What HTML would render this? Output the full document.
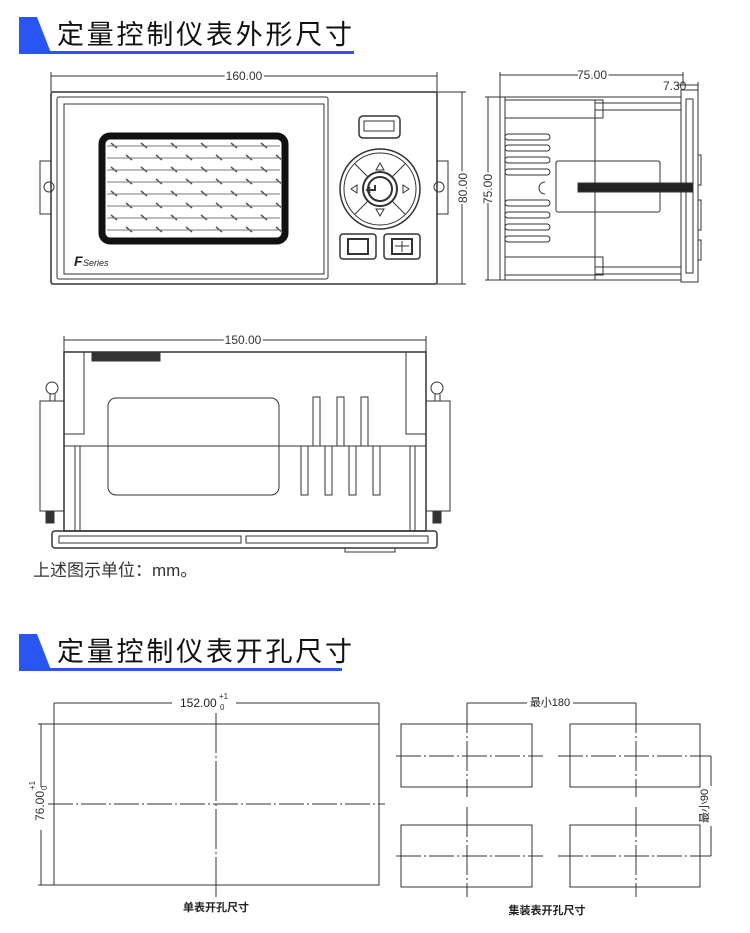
<!DOCTYPE html>
<html><head><meta charset="utf-8"><style>
body{margin:0;background:#fff}
svg{display:block}
text{font-family:"Liberation Sans","Noto Sans CJK SC",sans-serif}
</style></head><body>
<svg width="750" height="933" viewBox="0 0 750 933" xmlns="http://www.w3.org/2000/svg">
<defs>
<pattern id="hp" x="107" y="140" width="30" height="24" patternUnits="userSpaceOnUse">
<line x1="4" y1="3" x2="10" y2="8" stroke="#555" stroke-width="1.5"/>
<line x1="19" y1="15" x2="25" y2="20" stroke="#555" stroke-width="1.5"/>
</pattern>
</defs>
<!-- Header 1 -->
<polygon points="19,17 37,17 51,53 19,53" fill="#2a55f5"/>
<rect x="19" y="51" width="335" height="3" fill="#2a55f5"/>
<text x="57" y="44" font-size="27" fill="#111" font-family="Noto Sans CJK SC,sans-serif" textLength="295">定量控制仪表外形尺寸</text>

<rect x="106" y="140" width="175" height="97" fill="url(#hp)"/>
<g stroke="#333" fill="none" stroke-width="1">
<!-- Front view -->
<line x1="51" y1="76" x2="437" y2="76"/><line x1="51" y1="72" x2="51" y2="92"/><line x1="437" y1="72" x2="437" y2="92"/>
<line x1="437" y1="92" x2="466" y2="92"/><line x1="437" y1="284" x2="466" y2="284"/><line x1="462" y1="92" x2="462" y2="284"/>
<rect x="51" y="92" width="386" height="192" rx="2" stroke-width="1.5"/>
<rect x="57" y="97" width="271" height="182" rx="2"/>
<rect x="64" y="104" width="260" height="170"/>
<rect x="40" y="161" width="11" height="53"/><rect x="437" y="161" width="11" height="53"/>
<circle cx="49" cy="187" r="5"/><circle cx="439" cy="187" r="5"/>
<rect x="102" y="136" width="183" height="105" rx="8" stroke="#111" stroke-width="7"/>
<g stroke="#777">
<line x1="107" y1="146" x2="280" y2="146"/><line x1="107" y1="158" x2="280" y2="158"/><line x1="107" y1="170" x2="280" y2="170"/><line x1="107" y1="182" x2="280" y2="182"/><line x1="107" y1="194" x2="280" y2="194"/><line x1="107" y1="206" x2="280" y2="206"/><line x1="107" y1="218" x2="280" y2="218"/><line x1="107" y1="230" x2="280" y2="230"/>
</g>
<rect x="359" y="116" width="41" height="22" rx="4" stroke-width="1.5"/><rect x="364" y="121" width="30" height="10"/>
<circle cx="380" cy="189" r="40" stroke-width="1.5"/><circle cx="380" cy="189" r="36"/>
<circle cx="380" cy="189" r="17" stroke-width="2"/><circle cx="380" cy="189" r="12" stroke-width="2"/>
<line x1="355" y1="164" x2="368" y2="177"/><line x1="405" y1="164" x2="392" y2="177"/><line x1="355" y1="214" x2="368" y2="201"/><line x1="405" y1="214" x2="392" y2="201"/>
<polygon points="380,163 376,170 384,170"/><polygon points="380,216 376,209 384,209"/><polygon points="351,189 357,185 357,193"/><polygon points="409,189 403,185 403,193"/>
<rect x="340" y="234" width="36" height="25" rx="3" stroke-width="1.5"/><rect x="348" y="239" width="20" height="15" stroke-width="2"/>
<rect x="384" y="234" width="36" height="25" rx="3" stroke-width="1.5"/><rect x="392" y="239" width="20" height="15" stroke-width="2"/>
<line x1="402" y1="241" x2="402" y2="252"/><line x1="395" y1="246" x2="409" y2="246"/>
<path d="M375 185 v5 h-8 M370 187 l-3 3 3 3" stroke-width="2"/>

<!-- Side view -->
<line x1="500" y1="75" x2="683" y2="75"/><line x1="500" y1="72" x2="500" y2="97"/><line x1="683" y1="72" x2="683" y2="85"/>
<line x1="677" y1="85" x2="698" y2="85"/><line x1="698" y1="82" x2="698" y2="90"/>
<line x1="488" y1="97" x2="488" y2="280"/><line x1="485" y1="97" x2="500" y2="97"/><line x1="485" y1="280" x2="500" y2="280"/>
<rect x="500" y="97" width="181" height="183"/>
<rect x="681" y="90" width="17" height="192"/><rect x="686" y="99" width="7" height="174"/>
<rect x="698" y="155" width="3" height="30"/><rect x="698" y="200" width="3" height="30"/><rect x="698" y="240" width="3" height="20"/>
<line x1="505" y1="97" x2="505" y2="280"/>
<rect x="505" y="100" width="98" height="18"/><rect x="505" y="257" width="98" height="18"/>
<line x1="595" y1="100" x2="595" y2="280"/>
<line x1="595" y1="103" x2="681" y2="103"/><line x1="595" y1="110" x2="681" y2="110"/>
<line x1="595" y1="267" x2="681" y2="267"/><line x1="595" y1="274" x2="681" y2="274"/>
<g stroke-width="1">
<rect x="505" y="134" width="45" height="6" rx="3"/><rect x="505" y="145" width="45" height="6" rx="3"/><rect x="505" y="157" width="45" height="6" rx="3"/><rect x="505" y="169" width="45" height="6" rx="3"/>
<rect x="505" y="200" width="45" height="6" rx="3"/><rect x="505" y="212" width="45" height="6" rx="3"/><rect x="505" y="224" width="45" height="6" rx="3"/><rect x="505" y="236" width="45" height="6" rx="3"/>
</g>
<rect x="556" y="161" width="104" height="51" rx="2"/>
<rect x="578" y="183" width="115" height="9" fill="#222"/>
<path d="M545 182 a6 6 0 0 0 0 12"/>

<!-- Bottom view -->
<line x1="64" y1="340" x2="426" y2="340"/><line x1="64" y1="336" x2="64" y2="352"/><line x1="426" y1="336" x2="426" y2="352"/>
<rect x="64" y="352" width="362" height="179" stroke-width="1.5"/>
<rect x="64" y="352" width="20" height="82"/><rect x="406" y="352" width="20" height="82"/>
<line x1="64" y1="446" x2="426" y2="446"/>
<line x1="75" y1="446" x2="75" y2="531"/><line x1="80" y1="446" x2="80" y2="531"/>
<line x1="410" y1="446" x2="410" y2="531"/><line x1="415" y1="446" x2="415" y2="531"/>
<rect x="92" y="352" width="68" height="9" fill="#333"/>
<rect x="40" y="401" width="24" height="110"/><rect x="426" y="401" width="24" height="110"/>
<circle cx="52" cy="388" r="6"/><line x1="50" y1="394" x2="50" y2="401"/><line x1="55" y1="394" x2="55" y2="401"/>
<circle cx="437" cy="388" r="6"/><line x1="435" y1="394" x2="435" y2="401"/><line x1="440" y1="394" x2="440" y2="401"/>
<rect x="46" y="511" width="8" height="12" fill="#333"/><rect x="433" y="511" width="8" height="12" fill="#333"/>
<rect x="108" y="398" width="171" height="97" rx="8"/>
<rect x="313" y="397" width="7" height="49"/><rect x="337" y="397" width="7" height="49"/><rect x="361" y="397" width="7" height="49"/>
<rect x="301" y="446" width="7" height="49"/><rect x="325" y="446" width="7" height="49"/><rect x="349" y="446" width="7" height="49"/><rect x="373" y="446" width="7" height="49"/>
<rect x="52" y="531" width="385" height="17" rx="3" stroke-width="1.5"/>
<rect x="59" y="536" width="182" height="7"/><rect x="246" y="536" width="182" height="7"/>
<rect x="345" y="548" width="50" height="4"/>

<!-- Cutout single -->
<rect x="54" y="724" width="325" height="161"/>
<line x1="54" y1="703" x2="54" y2="724"/><line x1="379" y1="703" x2="379" y2="724"/>
<line x1="54" y1="703" x2="172" y2="703"/><line x1="236" y1="703" x2="379" y2="703"/>
<line x1="41" y1="724" x2="41" y2="787"/><line x1="41" y1="830" x2="41" y2="885"/>
<line x1="38" y1="724" x2="54" y2="724"/><line x1="38" y1="885" x2="54" y2="885"/>
<line x1="216" y1="713" x2="216" y2="897" stroke-dasharray="40,3,2,3"/>
<line x1="48" y1="804" x2="385" y2="804" stroke-dasharray="25,3,2,3"/>

<!-- Cutout group -->
<rect x="401" y="724" width="131" height="63"/><rect x="570" y="724" width="130" height="63"/>
<rect x="401" y="825" width="131" height="62"/><rect x="570" y="825" width="130" height="62"/>
<line x1="467" y1="703" x2="467" y2="797" stroke-dasharray="30,3,2,3"/><line x1="467" y1="807" x2="467" y2="897" stroke-dasharray="30,3,2,3"/>
<line x1="636" y1="703" x2="636" y2="797" stroke-dasharray="30,3,2,3"/><line x1="636" y1="807" x2="636" y2="897" stroke-dasharray="30,3,2,3"/>
<line x1="396" y1="756" x2="543" y2="756" stroke-dasharray="25,3,2,3"/><line x1="558" y1="756" x2="711" y2="756" stroke-dasharray="25,3,2,3"/>
<line x1="396" y1="856" x2="543" y2="856" stroke-dasharray="25,3,2,3"/><line x1="558" y1="856" x2="711" y2="856" stroke-dasharray="25,3,2,3"/>
<line x1="467" y1="703" x2="527" y2="703"/><line x1="573" y1="703" x2="636" y2="703"/>
<line x1="711" y1="756" x2="711" y2="786"/><line x1="711" y1="826" x2="711" y2="856"/>
</g>

<g font-size="12" fill="#333">
<text x="244" y="80" text-anchor="middle" fill="#fff" stroke="#fff" stroke-width="4">160.00</text>
<text x="244" y="80" text-anchor="middle">160.00</text>
<text x="592" y="79" text-anchor="middle" fill="#fff" stroke="#fff" stroke-width="4">75.00</text>
<text x="592" y="79" text-anchor="middle">75.00</text>
<text x="663" y="90">7.30</text>
<text transform="translate(467,188) rotate(-90)" text-anchor="middle" fill="#fff" stroke="#fff" stroke-width="4">80.00</text>
<text transform="translate(467,188) rotate(-90)" text-anchor="middle">80.00</text>
<text transform="translate(492,189) rotate(-90)" text-anchor="middle" fill="#fff" stroke="#fff" stroke-width="4">75.00</text>
<text transform="translate(492,189) rotate(-90)" text-anchor="middle">75.00</text>
<text x="243" y="344" text-anchor="middle" fill="#fff" stroke="#fff" stroke-width="4">150.00</text>
<text x="243" y="344" text-anchor="middle">150.00</text>
<text x="74" y="266" font-size="14" font-weight="bold" font-style="italic" fill="#222">F</text>
<text x="83" y="266" font-size="9" font-style="italic" fill="#222">Series</text>
<text x="180" y="707" font-size="12" fill="#222">152.00</text>
<text x="219" y="699" font-size="8">+1</text><text x="220" y="710" font-size="8">0</text>
<text transform="translate(44,806) rotate(-90)" text-anchor="middle" font-size="12">76.00</text>
<text transform="translate(35,790) rotate(-90)" font-size="8">+1</text>
<text transform="translate(47,790) rotate(-90)" font-size="8">0</text>
<text x="550" y="706" text-anchor="middle" font-size="11" fill="#222">最小180</text>
<text transform="translate(708,806) rotate(-90)" text-anchor="middle" font-size="11" fill="#222">最小90</text>
<text x="216" y="911" text-anchor="middle" font-size="11" font-weight="bold" fill="#222">单表开孔尺寸</text>
<text x="547" y="914" text-anchor="middle" font-size="11" font-weight="bold" fill="#222">集装表开孔尺寸</text>
</g>
<text x="33" y="576" font-size="17" fill="#333">上述图示单位：mm。</text>

<!-- Header 2 -->
<polygon points="19,634 37,634 51,670 19,670" fill="#2a55f5"/>
<rect x="19" y="668" width="323" height="3" fill="#2a55f5"/>
<text x="57" y="661" font-size="27" fill="#111" font-family="Noto Sans CJK SC,sans-serif" textLength="295">定量控制仪表开孔尺寸</text>
</svg>
</body></html>
